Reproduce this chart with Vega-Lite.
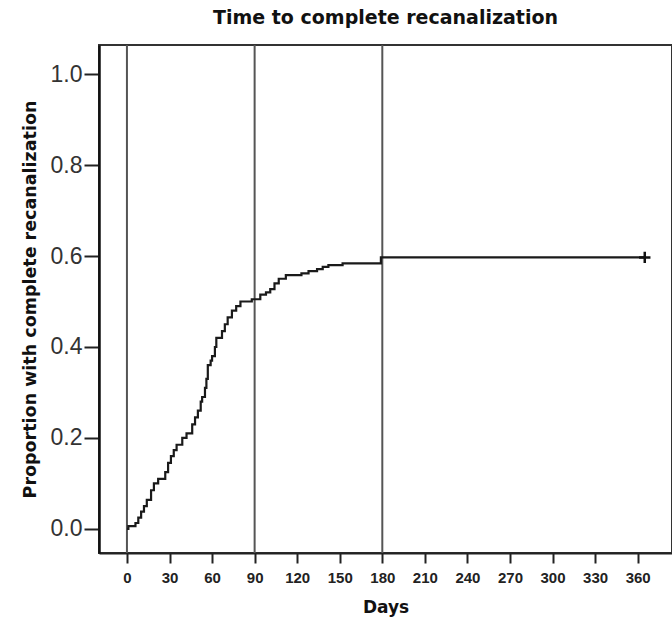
{
  "$schema": "https://vega.github.io/schema/vega-lite/v6.json",
  "width": 573,
  "height": 508,
  "autosize": "none",
  "padding": {"left": 99, "top": 45, "right": 0, "bottom": 64},
  "background": "white",
  "title": {
    "text": "Time to complete recanalization",
    "font": "DejaVu Sans",
    "fontSize": 19,
    "fontWeight": "bold",
    "color": "#111",
    "anchor": "middle",
    "offset": 16
  },
  "config": {
    "view": {"stroke": "#333", "strokeWidth": 2},
    "axis": {"grid": false}
  },
  "datasets": {
    "curve": [
      {"day": 0, "p": 0},
      {"day": 1, "p": 0.006},
      {"day": 6, "p": 0.013},
      {"day": 8, "p": 0.025},
      {"day": 10, "p": 0.038},
      {"day": 12, "p": 0.05},
      {"day": 14, "p": 0.064},
      {"day": 17, "p": 0.085},
      {"day": 19, "p": 0.1},
      {"day": 22, "p": 0.11},
      {"day": 27, "p": 0.125},
      {"day": 29, "p": 0.145},
      {"day": 31, "p": 0.16},
      {"day": 33, "p": 0.173},
      {"day": 35, "p": 0.185},
      {"day": 39, "p": 0.2},
      {"day": 42, "p": 0.21},
      {"day": 46, "p": 0.23},
      {"day": 48, "p": 0.245},
      {"day": 50, "p": 0.26},
      {"day": 52, "p": 0.28},
      {"day": 53, "p": 0.29},
      {"day": 55, "p": 0.31},
      {"day": 56, "p": 0.33},
      {"day": 57, "p": 0.36},
      {"day": 59, "p": 0.37},
      {"day": 60, "p": 0.38},
      {"day": 62, "p": 0.4},
      {"day": 63, "p": 0.42},
      {"day": 67, "p": 0.435},
      {"day": 69, "p": 0.45},
      {"day": 71, "p": 0.465},
      {"day": 74, "p": 0.48},
      {"day": 77, "p": 0.49},
      {"day": 80, "p": 0.5},
      {"day": 88, "p": 0.505},
      {"day": 94, "p": 0.515},
      {"day": 98, "p": 0.52},
      {"day": 101, "p": 0.527},
      {"day": 104, "p": 0.54},
      {"day": 107, "p": 0.55},
      {"day": 112, "p": 0.558},
      {"day": 123, "p": 0.562},
      {"day": 128, "p": 0.567},
      {"day": 134, "p": 0.571},
      {"day": 138, "p": 0.576},
      {"day": 142, "p": 0.58},
      {"day": 152, "p": 0.584},
      {"day": 179, "p": 0.597},
      {"day": 365, "p": 0.597}
    ],
    "rules": [{"day": 0}, {"day": 90}, {"day": 180}],
    "censor": [{"day": 365, "p": 0.597}]
  },
  "layer": [
    {
      "data": {"name": "rules"},
      "mark": {"type": "rule", "color": "#555", "strokeWidth": 2},
      "encoding": {
        "x": {
          "field": "day",
          "type": "quantitative",
          "scale": {"domain": [-19.7, 384.2], "nice": false, "zero": false},
          "axis": {
            "values": [0, 30, 60, 90, 120, 150, 180, 210, 240, 270, 300, 330, 360],
            "title": "Days",
            "titleFont": "DejaVu Sans",
            "titleFontSize": 17,
            "titleFontWeight": "bold",
            "titleColor": "#111",
            "titlePadding": 14,
            "labelFont": "Liberation Sans",
            "labelFontSize": 15,
            "labelFontWeight": "bold",
            "labelColor": "#222",
            "labelPadding": 7,
            "tickColor": "#222",
            "tickSize": 10,
            "tickWidth": 2,
            "domainColor": "#222",
            "domainWidth": 2
          }
        }
      }
    },
    {
      "data": {"name": "curve"},
      "mark": {"type": "line", "interpolate": "step-after", "color": "#1a1a1a", "strokeWidth": 2.2},
      "encoding": {
        "x": {"field": "day", "type": "quantitative"},
        "y": {
          "field": "p",
          "type": "quantitative",
          "scale": {"domain": [-0.053, 1.064], "nice": false, "zero": false},
          "axis": {
            "values": [0, 0.2, 0.4, 0.6, 0.8, 1.0],
            "format": ".1f",
            "title": "Proportion with complete recanalization",
            "titleFont": "DejaVu Sans",
            "titleFontSize": 17.5,
            "titleFontWeight": "bold",
            "titleColor": "#111",
            "titlePadding": 11,
            "labelFont": "Liberation Sans",
            "labelFontSize": 23,
            "labelColor": "#333",
            "labelPadding": 2,
            "tickColor": "#222",
            "tickSize": 15,
            "tickWidth": 2,
            "domainColor": "#111",
            "domainWidth": 2.5
          }
        }
      }
    },
    {
      "data": {"name": "censor"},
      "mark": {"type": "point", "shape": "M-1,0H1M0,-1V1", "size": 130, "color": "#111", "strokeWidth": 2.5, "opacity": 1},
      "encoding": {
        "x": {"field": "day", "type": "quantitative"},
        "y": {"field": "p", "type": "quantitative"}
      }
    }
  ]
}
